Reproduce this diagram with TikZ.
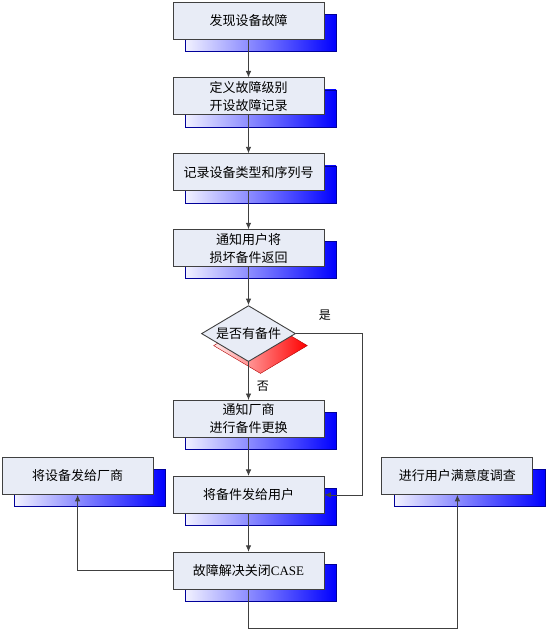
\documentclass[tikz,border=0pt]{standalone}
\usepackage{fontspec}
\setmainfont{Liberation Serif}
\newfontfamily\cjk{Noto Sans CJK SC}
\usepackage{xcolor}
\usetikzlibrary{shapes,arrows,arrows.meta,positioning,shadows}

\definecolor{boxfill}{HTML}{E8ECF6}
\definecolor{boxline}{HTML}{404040}
\definecolor{shadeblue}{HTML}{0000FF}

\begin{document}
\begin{tikzpicture}[
    x=1pt, y=1pt,
    node distance=38pt,
    box/.style={rectangle, draw=boxline, line width=0.9pt, fill=boxfill, minimum width=151pt, minimum height=37pt, align=center, font=\cjk\fontsize{13pt}{18pt}\selectfont,
        general shadow={shadow xshift=12pt, shadow yshift=-12pt, left color=blue!5, right color=shadeblue, draw=blue!60!black, line width=0.6pt}},
    decision/.style={diamond, draw=boxline, line width=0.9pt, fill=boxfill, aspect=1.68, inner sep=0pt, minimum width=94pt, minimum height=56pt, font=\cjk\fontsize{13pt}{18pt}\selectfont,
        general shadow={shadow xshift=12pt, shadow yshift=-12pt, left color=red!8, right color=red, draw=red!70!black, line width=0.4pt}},
    lab/.style={font=\cjk\fontsize{12pt}{14pt}\selectfont, inner sep=2pt},
    edge/.style={-{Latex[length=6.5pt,width=5.5pt]}, draw=boxline, line width=0.8pt}
]
    \useasboundingbox (0,0) rectangle (546,-641);

    \node[box] (found) at (248.5,-20.5) {发现设备故障};
    \node[box, below=of found] (level) {定义故障级别\\开设故障记录};
    \node[box, below=of level] (record) {记录设备类型和序列号};
    \node[box, below=of record] (notify) {通知用户将\\损坏备件返回};
    \node[decision, below=of notify] (spare) {是否有备件};
    \node[box, below=of spare] (vendor) {通知厂商\\进行备件更换};
    \node[box, below=of vendor] (send) {将备件发给用户};
    \node[box, below=of send] (close) {故障解决关闭{\rmfamily CASE}};
    \node[box, left=19pt of send, yshift=19pt] (ship) {将设备发给厂商};
    \node[box, right=57pt of send, yshift=19pt] (survey) {进行用户满意度调查};

    \draw[edge] (found) -- (level);
    \draw[edge] (level) -- (record);
    \draw[edge] (record) -- (notify);
    \draw[edge] (notify) -- (spare);
    \draw[edge] (spare) -- node[lab, right=6pt, pos=0.64] {否} (vendor);
    \draw[edge] (spare.east) -- ++(66,0) node[lab, above=11pt, pos=0.44] {是} |- (send.east);
    \draw[edge] (vendor) -- (send);
    \draw[edge] (send) -- (close);
    \draw[edge] (close.west) -| (ship.south);
    \draw[edge] (close.south) -- ++(0,-39) -| (survey.south);
\end{tikzpicture}
\end{document}
